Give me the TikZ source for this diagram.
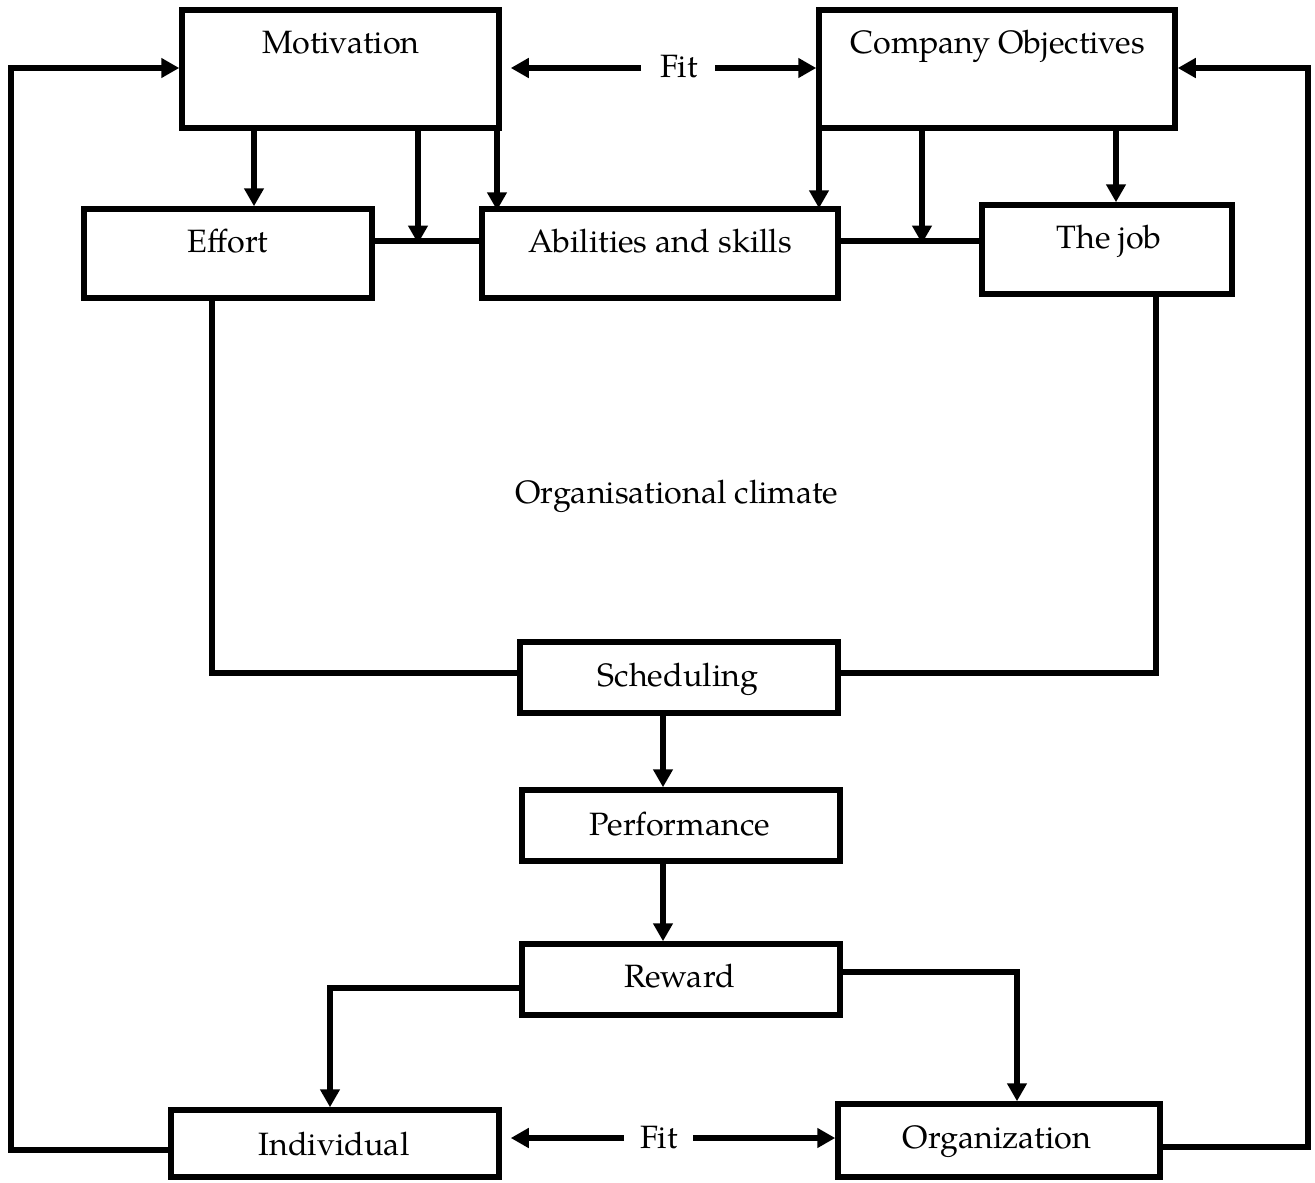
\documentclass[tikz,border=0pt]{standalone}
\usepackage{fontspec}
\setmainfont{TeX Gyre Pagella}
\usetikzlibrary{arrows.meta}
\begin{document}
\begin{tikzpicture}[x=1pt,y=-1pt,
  box/.style={draw,line width=5.5pt,inner sep=0pt,minimum width=#1},
  lbl/.style={anchor=base,inner sep=0pt,font=\fontsize{32.3}{38}\selectfont},
  conn/.style={line width=5.5pt},
  arr/.style={line width=5.5pt,-{Triangle[width=19pt,length=18pt]}}]
\useasboundingbox (0,0) rectangle (1315,1183);
% boxes
\node[box=317pt,minimum height=118pt] (mot) at (340.5,69) {};
\node[box=356pt,minimum height=118pt] (comp) at (997,69) {};
\node[box=288pt,minimum height=89pt] (eff) at (228,253.5) {};
\node[box=356pt,minimum height=89pt] (abil) at (660,253.5) {};
\node[box=250pt,minimum height=89pt] (job) at (1107,249.5) {};
\node[box=318pt,minimum height=71pt] (sched) at (679,677.5) {};
\node[box=318pt,minimum height=71pt] (perf) at (681,825.5) {};
\node[box=318pt,minimum height=71pt] (rew) at (681,979.5) {};
\node[box=328pt,minimum height=67pt] (ind) at (335,1143.5) {};
\node[box=322pt,minimum height=73pt] (org) at (999,1140.5) {};
% texts
\node[lbl] (motT) at (341,53) {Motivation};
\node[lbl] (compT) at (998,53) {Company Objectives};
\node[lbl] (effT) at (228,252) {Effort};
\node[lbl] (abilT) at (660,252) {Abilities and skills};
\node[lbl] (jobT) at (1109,248) {The job};
\node[lbl] (schedT) at (678,686) {Scheduling};
\node[lbl] (perfT) at (680,835) {Performance};
\node[lbl] (rewT) at (680,987) {Reward};
\node[lbl] (indT) at (334,1155) {Individual};
\node[lbl] (orgT) at (997,1148) {Organization};
\node[lbl] (clim) at (677,503) {Organisational climate};
\node[lbl] (fitTop) at (679,77) {Fit};
\node[lbl] (fitBot) at (659,1148) {Fit};
% helper coordinates
\coordinate (fitTL) at (641,68);
\coordinate (fitTR) at (715,68);
\coordinate (fitBL) at (624,1138);
\coordinate (fitBR) at (693,1138);
\coordinate (xa) at (254,0);
\coordinate (xb) at (418,0);
\coordinate (xc) at (497,0);
\coordinate (xd) at (819,0);
\coordinate (xe) at (922,0);
\coordinate (xf) at (1116,0);
\coordinate (yl) at (0,241);
\coordinate (xg) at (212,0);
\coordinate (xh) at (1156,0);
\coordinate (ys) at (0,673);
\coordinate (xp) at (663,0);
\coordinate (yrl) at (0,988);
\coordinate (yrr) at (0,972);
\coordinate (xi) at (330,0);
\coordinate (xo) at (1017,0);
\coordinate (yil) at (0,1150);
\coordinate (yor) at (0,1147);
\coordinate (xL) at (11,0);
\coordinate (xR) at (1308,0);
\coordinate (yT) at (0,68);
% Fit arrows
\draw[arr] (fitTL) -- ([xshift=9pt]fitTL -| mot.east);
\draw[arr] (fitTR) -- (fitTR -| comp.west);
\draw[arr] (fitBL) -- ([xshift=9pt]fitBL -| ind.east);
\draw[arr] (fitBR) -- (fitBR -| org.west);
% down arrows from top boxes
\draw[arr] (xa |- mot.south) -- (xa |- eff.north);
\draw[arr] (xb |- mot.south) -- ([yshift=-2.5pt]xb |- yl);
\draw[arr] (xc |- mot.south) -- ([yshift=-4pt]xc |- abil.north);
\draw[arr] (xd |- comp.south) -- ([yshift=-2pt]xd |- abil.north);
\draw[arr] (xe |- comp.south) -- ([yshift=-2.5pt]xe |- yl);
\draw[arr] (xf |- comp.south) -- (xf |- job.north);
% horizontal links
\draw[conn] (eff.east |- yl) -- (abil.west |- yl);
\draw[conn] (abil.east |- yl) -- (job.west |- yl);
% to scheduling
\draw[conn] (xg |- eff.south) |- (sched.west |- ys);
\draw[conn] (xh |- job.south) |- (sched.east |- ys);
% chain
\draw[arr] (xp |- sched.south) -- (xp |- perf.north);
\draw[arr] (xp |- perf.south) -- (xp |- rew.north);
% reward branches
\draw[arr] (rew.west |- yrl) -| (xi |- ind.north);
\draw[arr] (rew.east |- yrr) -| (xo |- org.north);
% feedback loops
\draw[arr] (ind.west |- yil) -| (xL |- yT) -- (mot.west |- yT);
\draw[arr] (org.east |- yor) -| (xR |- yT) -- (comp.east |- yT);
\end{tikzpicture}
\end{document}
